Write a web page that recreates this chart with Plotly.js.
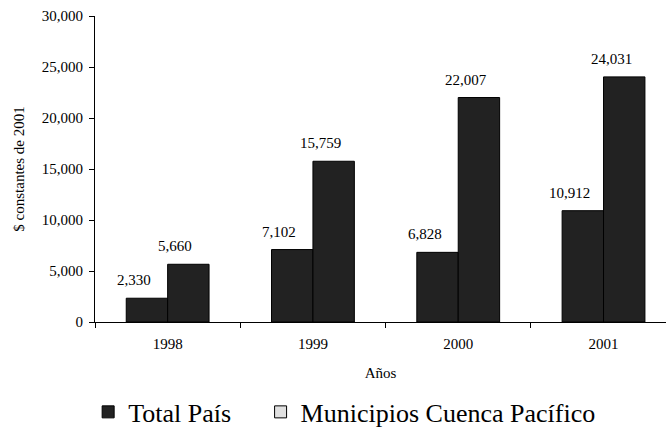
<!DOCTYPE html>
<html><head><meta charset="utf-8">
<script src="https://cdn.plot.ly/plotly-3.0.1.min.js"></script>
<style>body{margin:0;background:#fff}#c{width:666px;height:438px}
g.legend text, text.legendtext{font-family:'Liberation Serif',serif !important;}</style>
</head><body><div id="c"></div>
<script>
var years = ['1998', '1999', '2000', '2001'];
var totalPais = [2330, 7102, 6828, 10912];
var cuencaPacifico = [5660, 15759, 22007, 24031];
var seriesNames = ['Total País', 'Municipios Cuenca Pacífico'];
var yTicks = [0, 5000, 10000, 15000, 20000, 25000, 30000];

function fmt(v){ return v.toLocaleString('en-US'); }

var serif = 'Liberation Serif';
var barW = 0.285;

var traces = [
  {type: 'bar', x: years, y: totalPais, width: barW, offset: -barW, showlegend: false, hoverinfo: 'none',
   marker: {color: '#222222', line: {color: '#000', width: 1}}},
  {type: 'bar', x: years, y: cuencaPacifico, width: barW, offset: 0, showlegend: false, hoverinfo: 'none',
   marker: {color: '#222222', line: {color: '#000', width: 1}}},
  {type: 'bar', x: [null], y: [null], name: seriesNames[0], legend: 'legend', hoverinfo: 'none',
   marker: {color: '#222222', line: {color: '#000', width: 1}}},
  {type: 'bar', x: [null], y: [null], name: seriesNames[1], legend: 'legend2', hoverinfo: 'none',
   marker: {color: '#e0e0e0', line: {color: '#000', width: 1}}}
];

// value labels anchored at each bar's category index and value
var annotations = [];
var halfBar = 20.7, labelShift = -13;
years.forEach(function(yr, i){
  annotations.push({x: i, y: totalPais[i], text: fmt(totalPais[i]), xref: 'x', yref: 'y', showarrow: false,
    yanchor: 'bottom', xanchor: 'center', xshift: -halfBar + labelShift, yshift: 8,
    font: {family: serif, size: 15, color: '#000'}});
  annotations.push({x: i, y: cuencaPacifico[i], text: fmt(cuencaPacifico[i]), xref: 'x', yref: 'y', showarrow: false,
    yanchor: 'bottom', xanchor: 'center', xshift: halfBar + labelShift, yshift: 8,
    font: {family: serif, size: 15, color: '#000'}});
});

var legendFont = {size: 26, color: '#000'};
var layout = {
  width: 666, height: 438,
  margin: {l: 95, r: 0, t: 16, b: 116},
  paper_bgcolor: '#fff', plot_bgcolor: '#fff',
  barmode: 'overlay',
  font: {family: serif, size: 15, color: '#000'},
  xaxis: {
    type: 'category', range: [-0.5, 3.43], tickson: 'boundaries',
    ticks: 'outside', ticklen: 5, tickcolor: '#000', tickwidth: 1,
    showline: true, linecolor: '#000', linewidth: 1, showgrid: false, zeroline: false,
    tickfont: {family: serif, size: 15}, ticklabelstandoff: 8,
    title: {text: 'Años', font: {family: serif, size: 15}, standoff: 16}
  },
  yaxis: {
    range: [0, 30000], tickvals: yTicks, ticktext: yTicks.map(fmt),
    ticks: 'outside', ticklen: 5, tickcolor: '#000', tickwidth: 1,
    showline: true, linecolor: '#000', linewidth: 1, showgrid: false, zeroline: false,
    tickfont: {family: serif, size: 15}, ticklabelstandoff: 3,
    title: {text: '$ constantes de 2001', font: {family: serif, size: 15}, standoff: 13}
  },
  legend: {orientation: 'h', x: -0.012, xanchor: 'left', y: -0.294, yanchor: 'middle',
    font: legendFont, bgcolor: 'rgba(0,0,0,0)'},
  legend2: {orientation: 'h', x: 0.29, xanchor: 'left', y: -0.294, yanchor: 'middle',
    font: legendFont, bgcolor: 'rgba(0,0,0,0)'},
  annotations: annotations,
  showlegend: true
};

Plotly.newPlot('c', traces, layout, {staticPlot: true, displayModeBar: false});
</script></body></html>
